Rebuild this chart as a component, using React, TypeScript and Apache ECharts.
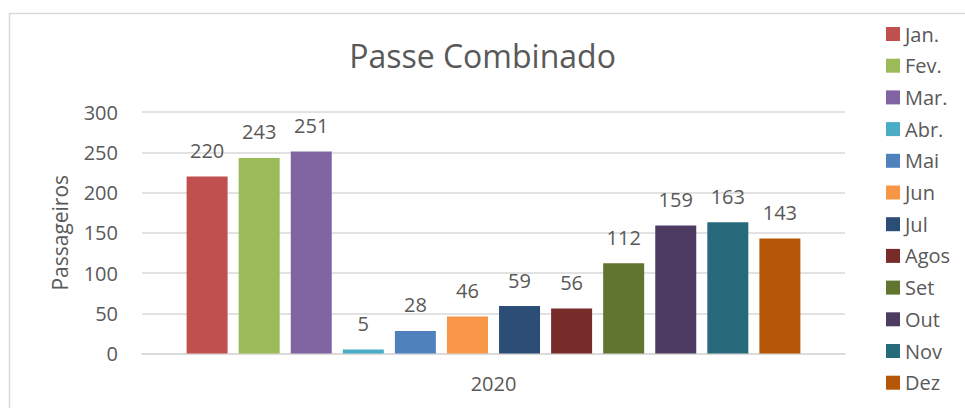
import React, { useEffect, useRef } from "react";
import * as echarts from "echarts";

const categories = ["2020"];
const months = ["Jan.", "Fev.", "Mar.", "Abr.", "Mai", "Jun", "Jul", "Agos", "Set", "Out", "Nov", "Dez"];
const values = [220, 243, 251, 5, 28, 46, 59, 56, 112, 159, 163, 143];
const colors = ["#C0504D", "#9BBB59", "#8064A2", "#4BACC6", "#4F81BD", "#F79646", "#2C4D75", "#772C2A", "#5F7530", "#4D3B62", "#276A7C", "#B65708"];
const yTicks = { min: 0, max: 300, interval: 50 };

const FONT = "'Open Sans', 'Noto Sans', sans-serif";
const TXT = "#595959";

export default function App() {
  const ref = useRef<HTMLDivElement>(null);
  useEffect(() => {
    if (!ref.current) return;
    const chart = echarts.init(ref.current, null, { renderer: "svg" });
    const series = months.map((m, i) => ({
      name: m,
      type: "bar" as const,
      data: [values[i]],
      barWidth: 41,
      barGap: "27%",
      itemStyle: { color: colors[i] },
      label: {
        show: true,
        position: "top" as const,
        distance: 16,
        fontSize: 20,
        fontFamily: FONT,
        color: TXT,
      },
    }));
    chart.setOption({
      animation: false,
      textStyle: { fontFamily: FONT },
      title: {
        text: "Passe Combinado",
        left: "center",
        top: 34,
        textStyle: { fontSize: 32, fontWeight: "normal", color: TXT, fontFamily: FONT },
      },
      graphic: [
        {
          type: "rect",
          shape: { x: 9.5, y: 13.5, width: 1000, height: 500 },
          style: { fill: "none", stroke: "#D9D9D9", lineWidth: 1.5 },
          silent: true,
        },
      ],
      legend: {
        orient: "vertical",
        left: 881,
        top: 19,
        itemWidth: 14,
        itemHeight: 14,
        itemGap: 11.7,
        icon: "rect",
        data: months,
        textStyle: { fontSize: 20, lineHeight: 20, color: TXT, fontFamily: FONT },
      },
      grid: { left: 142, right: 120, top: 112, bottom: 54.5 },
      xAxis: {
        type: "category",
        data: categories,
        axisTick: { show: false },
        axisLine: { lineStyle: { color: "#D9D9D9", width: 1.5 } },
        axisLabel: { fontSize: 20, color: TXT, fontFamily: FONT, margin: 20 },
      },
      yAxis: {
        type: "value",
        min: yTicks.min,
        max: yTicks.max,
        interval: yTicks.interval,
        name: "Passageiros",
        nameLocation: "middle",
        nameRotate: 90,
        nameGap: 72,
        nameTextStyle: { fontSize: 21, color: TXT, fontFamily: FONT },
        axisLine: { show: false },
        axisTick: { show: false },
        axisLabel: { fontSize: 20, color: TXT, fontFamily: FONT, margin: 24 },
        splitLine: { lineStyle: { color: "#D9D9D9", width: 1.5 } },
      },
      series,
    });
    return () => chart.dispose();
  }, []);
  return (
    <div
      ref={ref}
      style={{ position: "absolute", left: 0, top: 0, width: 965, height: 408, background: "#fff" }}
    />
  );
}
